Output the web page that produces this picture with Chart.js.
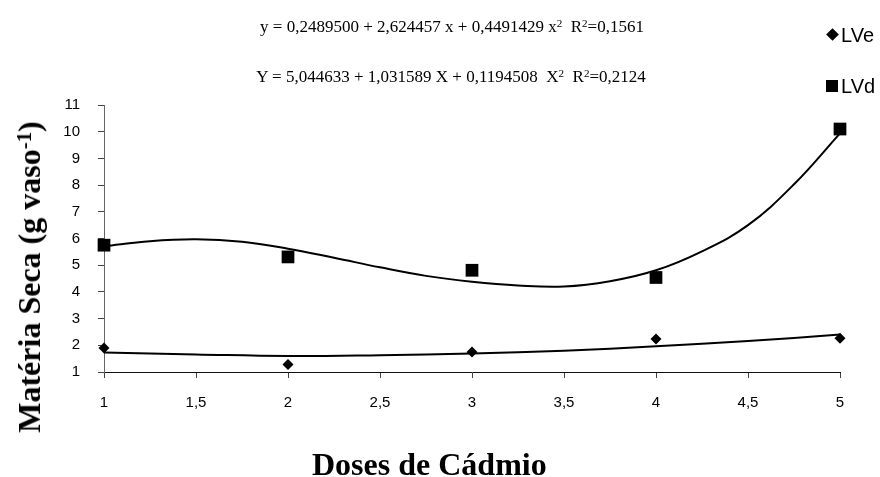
<!DOCTYPE html>
<html><head><meta charset="utf-8">
<script src="https://cdn.jsdelivr.net/npm/chart.js@4/dist/chart.umd.min.js"></script>
<style>
html,body{margin:0;padding:0;background:#fff;}
#wrap{position:relative;width:880px;height:477px;}
canvas{position:absolute;left:0;top:0;}
.t{position:absolute;white-space:nowrap;color:#000;}
.eq{font-family:"Liberation Serif","Times New Roman",serif;font-size:17px;line-height:17px;transform:translateX(-50%);}
.lg{font-family:"Liberation Sans",Arial,sans-serif;font-size:20px;line-height:20px;}
.ttl{font-family:"Liberation Serif","Times New Roman",serif;font-size:32px;line-height:32px;font-weight:bold;}
sup{font-size:0.65em;line-height:0;position:relative;vertical-align:0;top:-0.45em;}
.mk{position:absolute;background:#000;}
</style></head><body>
<div id="wrap">
<canvas id="c" width="880" height="477"></canvas>
<div class="t eq" style="left:452px;top:18px;">y = 0,2489500 + 2,624457 x + 0,4491429 x<sup>2</sup>&nbsp; R<sup>2</sup>=0,1561</div>
<div class="t eq" style="left:451px;top:68px;">Y = 5,044633 + 1,031589 X + 0,1194508&nbsp; X<sup>2</sup>&nbsp; R<sup>2</sup>=0,2124</div>
<div class="mk" style="left:828px;top:30px;width:9px;height:9px;transform:rotate(45deg);"></div>
<div class="t lg" style="left:841px;top:25px;">LVe</div>
<div class="mk" style="left:826px;top:80px;width:12px;height:12px;"></div>
<div class="t lg" style="left:841px;top:76px;">LVd</div>
<div class="t ttl" style="left:312px;top:448px;">Doses de Cádmio</div>
<div class="t ttl" style="left:29px;top:277px;transform:translate(-50%,-50%) rotate(-90deg);">Matéria Seca (g vaso<sup>-1</sup>)</div>
</div>
<script>
const doses = [1, 2, 3, 4, 5];
const lveValues = [1.9, 1.28, 1.75, 2.24, 2.26];
const lvdValues = [5.75, 5.31, 4.81, 4.54, 10.1];
const lveCurveX = [1, 1.5, 2, 2.5, 3, 3.5, 4, 4.5, 5];
const lveCurve = [1.73, 1.66, 1.6, 1.63, 1.69, 1.8, 1.96, 2.16, 2.4];
const lvdCurveX = [1, 1.25, 1.5, 1.75, 2, 2.25, 2.5, 2.75, 3, 3.25, 3.5, 3.75, 4, 4.25, 4.5, 4.75, 5];
const lvdCurve = [5.71, 5.9, 5.97, 5.88, 5.62, 5.28, 4.92, 4.6, 4.38, 4.24, 4.2, 4.4, 4.81, 5.52, 6.5, 8.03, 9.94];
const xTickValues = [1, 1.5, 2, 2.5, 3, 3.5, 4, 4.5, 5];
const xTicks = ['1', '1,5', '2', '2,5', '3', '3,5', '4', '4,5', '5'];
const yTicks = [1, 2, 3, 4, 5, 6, 7, 8, 9, 10, 11];

const pts = (xs, ys) => xs.map((x, i) => ({x: x, y: ys[i]}));
const tickFont = {family: '"Liberation Sans", Arial, sans-serif', size: 15};

new Chart(document.getElementById('c'), {
  type: 'scatter',
  data: {
    datasets: [
      {label: 'LVe trend', data: pts(lveCurveX, lveCurve), showLine: true, borderColor: '#000', borderWidth: 2, pointRadius: 0, tension: 0.4, fill: false},
      {label: 'LVd trend', data: pts(lvdCurveX, lvdCurve), showLine: true, borderColor: '#000', borderWidth: 2, pointRadius: 0, tension: 0.4, fill: false},
      {label: 'LVe', data: pts(doses, lveValues), pointStyle: 'rectRot', pointRadius: 5.5, backgroundColor: '#000', borderColor: '#000', borderWidth: 0},
      {label: 'LVd', data: pts(doses, lvdValues), pointStyle: 'rect', pointRadius: 9, backgroundColor: '#000', borderColor: '#000', borderWidth: 0}
    ]
  },
  options: {
    responsive: false,
    animation: false,
    clip: false,
    layout: {padding: {left: 0, top: 105, right: 40, bottom: 0}},
    plugins: {legend: {display: false}, tooltip: {enabled: false}},
    scales: {
      x: {
        type: 'linear', min: 1, max: 5,
        afterFit: s => { s.height = 105; },
        afterBuildTicks: s => { s.ticks = xTickValues.map(v => ({value: v})); },
        ticks: {color: '#000', font: tickFont, padding: 16,
          callback: (v, i) => xTicks[i]},
        grid: {display: true, drawOnChartArea: false, drawTicks: true, tickLength: 6, color: '#444'},
        border: {display: true, color: '#111', width: 1}
      },
      y: {
        type: 'linear', min: 1, max: 11,
        afterFit: s => { s.width = 104; },
        afterBuildTicks: s => { s.ticks = yTicks.map(v => ({value: v})); },
        ticks: {color: '#000', font: tickFont, padding: 18},
        grid: {display: true, drawOnChartArea: false, drawTicks: true, tickLength: 6, color: '#444'},
        border: {display: true, color: '#666', width: 1}
      }
    }
  }
});
</script>
</body></html>
